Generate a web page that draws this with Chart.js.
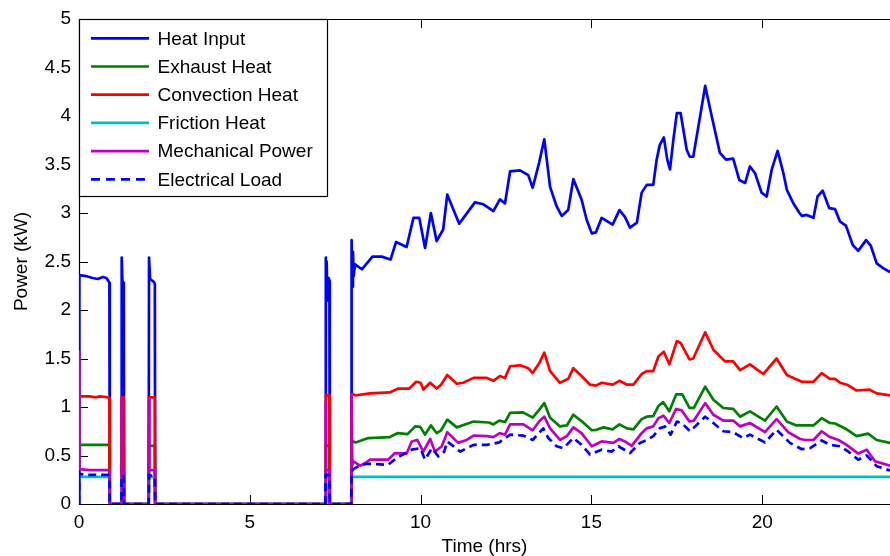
<!DOCTYPE html>
<html>
<head>
<meta charset="utf-8">
<script src="https://cdn.jsdelivr.net/npm/chart.js@4.4.1/dist/chart.umd.min.js"></script>
<style>
html,body{margin:0;padding:0;background:#fff;overflow:hidden;}
canvas{display:block;}
</style>
</head>
<body>
<canvas id="c" width="890" height="556"></canvas>
<script>
// ---- Data ----
const seriesNames = ["Heat Input","Exhaust Heat","Convection Heat","Friction Heat","Mechanical Power","Electrical Load"];
const xTickValues = [0,5,10,15,20];
const yTickStep = 0.5;

const heatT = [0,0.01,0.2,0.4,0.55,0.7,0.8,0.86,0.89,0.9,1.24,1.25,1.27,1.31,1.32,2.04,2.05,2.08,2.19,2.22,2.23,7.21,7.22,7.23,7.25,7.27,7.31,7.33,7.34,7.97,7.98,8.0,8.02,8.04,8.08,8.28,8.59,8.86,9.12,9.28,9.59,9.79,9.96,10.13,10.30,10.47,10.66,10.78,11.0,11.13,11.59,11.84,12.13,12.32,12.47,12.62,12.91,13.15,13.28,13.47,13.62,13.79,13.98,14.13,14.32,14.47,14.71,14.86,15.01,15.13,15.30,15.62,15.82,15.98,16.13,16.33,16.47,16.62,16.81,16.91,17.0,17.12,17.22,17.30,17.40,17.50,17.61,17.79,17.88,17.98,18.13,18.33,18.52,18.76,18.94,19.15,19.33,19.50,19.64,19.79,19.98,20.13,20.28,20.45,20.62,20.72,20.91,21.09,21.16,21.30,21.50,21.62,21.77,21.96,22.13,22.28,22.45,22.65,22.81,23.04,23.18,23.35,23.55,23.74];
const heatV = [0,2.36,2.35,2.33,2.32,2.34,2.33,2.30,2.28,0,0,2.54,2.30,2.28,0,0,2.54,2.32,2.29,2.27,0,0,2.54,2.05,2.5,2.1,2.33,2.3,0,0,2.72,2.24,2.6,2.35,2.47,2.42,2.55,2.55,2.52,2.70,2.65,2.95,2.95,2.64,3.00,2.71,2.83,3.19,3.0,2.89,3.11,3.09,3.02,3.14,3.10,3.43,3.44,3.39,3.26,3.52,3.76,3.27,3.07,2.97,3.03,3.35,3.14,2.93,2.79,2.80,2.95,2.88,3.03,2.96,2.85,2.90,3.21,3.29,3.29,3.55,3.70,3.78,3.55,3.45,3.76,4.03,4.03,3.65,3.58,3.58,3.89,4.31,4.0,3.62,3.55,3.56,3.34,3.31,3.48,3.41,3.21,3.17,3.45,3.64,3.41,3.24,3.10,3.0,2.97,2.98,2.95,3.17,3.23,3.05,3.04,2.91,2.87,2.67,2.61,2.72,2.66,2.48,2.43,2.39];

const exhT = [0,0.85,0.89,0.9,1.24,1.25,1.31,1.32,2.04,2.05,2.22,2.23,7.21,7.22,7.33,7.34,7.97,7.98,8.03,8.1,8.47,9.1,9.32,9.62,9.84,9.99,10.13,10.30,10.47,10.6,10.78,11.06,11.3,11.55,12.0,12.13,12.30,12.47,12.62,13.0,13.28,13.47,13.62,13.79,14.08,14.28,14.47,14.71,15.01,15.15,15.35,15.62,15.82,16.04,16.23,16.47,16.62,16.81,16.96,17.1,17.28,17.48,17.66,17.87,18.0,18.33,18.57,18.86,19.15,19.35,19.64,20.08,20.42,20.72,21.0,21.5,21.74,21.98,22.13,22.47,22.76,23.1,23.35,23.74];
const exhV = [0.61,0.61,0.6,0,0,0.6,0.6,0,0,0.6,0.6,0,0,0.6,0.6,0,0,0.63,0.645,0.635,0.68,0.69,0.73,0.72,0.80,0.795,0.715,0.81,0.73,0.76,0.87,0.79,0.82,0.85,0.84,0.82,0.86,0.845,0.94,0.945,0.89,0.97,1.04,0.89,0.80,0.81,0.92,0.855,0.76,0.765,0.79,0.77,0.82,0.78,0.77,0.875,0.90,0.905,1.01,1.05,0.955,1.13,1.13,0.99,0.99,1.21,1.075,0.99,0.98,0.90,0.955,0.86,1.005,0.85,0.81,0.81,0.885,0.835,0.83,0.77,0.70,0.725,0.66,0.63];

const convT = [0,0.3,0.5,0.6,0.86,0.89,0.9,1.24,1.25,1.31,1.32,2.04,2.05,2.22,2.23,7.21,7.23,7.33,7.34,7.97,7.98,8.03,8.1,8.52,9.1,9.35,9.67,9.87,10.0,10.08,10.28,10.47,10.6,10.78,11.06,11.25,11.55,11.94,12.13,12.32,12.47,12.62,12.91,13.15,13.28,13.47,13.62,13.79,14.08,14.32,14.47,14.71,14.96,15.13,15.30,15.62,15.82,16.04,16.23,16.47,16.62,16.81,16.96,17.12,17.28,17.50,17.61,17.87,17.98,18.33,18.57,18.91,19.15,19.35,19.64,20.03,20.42,20.72,20.91,21.16,21.5,21.74,21.98,22.13,22.28,22.48,22.76,23.13,23.35,23.74];
const convV = [1.11,1.11,1.1,1.11,1.1,1.09,0,0,1.1,1.1,0,0,1.1,1.1,0,0,1.12,1.12,0,0,1.13,1.13,1.12,1.14,1.15,1.19,1.19,1.26,1.25,1.18,1.25,1.19,1.23,1.33,1.24,1.25,1.30,1.30,1.27,1.32,1.30,1.42,1.43,1.40,1.35,1.45,1.56,1.37,1.25,1.29,1.40,1.32,1.23,1.22,1.25,1.23,1.27,1.23,1.23,1.34,1.37,1.37,1.52,1.57,1.44,1.68,1.66,1.49,1.50,1.77,1.59,1.47,1.47,1.38,1.44,1.34,1.50,1.33,1.30,1.26,1.26,1.35,1.29,1.29,1.25,1.23,1.17,1.18,1.14,1.12];

const fricT = [0,0.89,0.9,1.24,1.25,1.31,1.32,2.04,2.05,2.22,2.23,7.21,7.22,7.33,7.35,7.97,7.98,23.74];
const fricV = [0.28,0.28,0,0,0.28,0.28,0,0,0.28,0.28,0,0,0.28,0.28,0,0,0.28,0.28];

const mechT = [0,0.01,0.3,0.5,0.7,0.86,0.89,0.9,1.24,1.25,1.26,1.31,1.32,2.04,2.05,2.06,2.22,2.23,7.21,7.22,7.23,7.33,7.34,7.97,7.98,8.0,8.03,8.23,8.37,8.52,9.05,9.25,9.59,9.74,9.90,10.08,10.28,10.42,10.62,10.78,11.10,11.35,11.55,11.94,12.13,12.32,12.47,12.62,13.01,13.28,13.47,13.62,13.79,14.08,14.28,14.47,14.71,15.01,15.30,15.64,15.82,15.98,16.18,16.47,16.62,16.81,16.96,17.11,17.28,17.48,17.64,17.87,18.0,18.33,18.57,18.86,19.15,19.35,19.64,20.08,20.42,20.76,21.11,21.26,21.50,21.74,21.98,22.23,22.47,22.81,23.06,23.30,23.74];
const mechV = [1.57,0.36,0.35,0.35,0.35,0.35,0.33,0,0,1.08,0.35,0.35,0,0,1.08,0.35,0.35,0,0,1.04,0.35,0.35,0,0,1.13,0.40,0.44,0.395,0.42,0.457,0.457,0.525,0.52,0.645,0.66,0.54,0.67,0.54,0.595,0.74,0.63,0.66,0.705,0.70,0.69,0.73,0.715,0.82,0.82,0.76,0.85,0.90,0.78,0.66,0.70,0.79,0.73,0.595,0.645,0.63,0.67,0.645,0.60,0.73,0.78,0.80,0.885,0.91,0.835,0.98,0.965,0.85,0.86,1.04,0.92,0.86,0.86,0.80,0.835,0.74,0.875,0.74,0.67,0.66,0.66,0.75,0.69,0.66,0.61,0.52,0.56,0.44,0.395];

const elecT = [0,0.01,0.3,0.86,0.89,0.9,1.24,1.25,1.31,1.32,2.04,2.05,2.22,2.23,7.21,7.22,7.33,7.34,7.97,7.98,8.03,8.18,8.42,9.05,9.30,9.74,9.99,10.13,10.33,10.52,10.69,10.78,11.16,11.55,11.94,12.30,12.62,13.01,13.28,13.59,13.74,13.98,14.18,14.47,14.71,14.96,15.30,15.59,15.79,16.13,16.42,16.62,16.81,17.0,17.15,17.32,17.50,17.64,17.89,18.33,18.57,18.86,19.15,19.44,19.64,20.08,20.42,20.81,21.16,21.40,21.74,21.98,22.28,22.52,22.81,23.06,23.35,23.74];
const elecV = [0,0.31,0.30,0.30,0.28,0,0,0.3,0.28,0,0,0.3,0.28,0,0,0.3,0.3,0,0,0.33,0.36,0.39,0.415,0.405,0.475,0.56,0.575,0.457,0.575,0.49,0.54,0.645,0.54,0.61,0.61,0.635,0.715,0.705,0.66,0.78,0.68,0.595,0.575,0.68,0.61,0.51,0.56,0.54,0.595,0.525,0.63,0.66,0.70,0.78,0.80,0.715,0.85,0.835,0.75,0.90,0.835,0.75,0.74,0.68,0.715,0.635,0.765,0.63,0.565,0.575,0.655,0.61,0.595,0.54,0.457,0.50,0.39,0.345];

// ---- Styling ----
const FONT = "'Liberation Sans', Arial, Helvetica, sans-serif";
const LW = 2.7;
const styles = [
  {color:'#0000FF', dash:[]},
  {color:'#008000', dash:[]},
  {color:'#FF0000', dash:[]},
  {color:'#00BFBF', dash:[]},
  {color:'#BF00BF', dash:[]},
  {color:'#0000FF', dash:[8,5]}
];
const tArrays = [heatT, exhT, convT, fricT, mechT, elecT];
const vArrays = [heatV, exhV, convV, fricV, mechV, elecV];

const datasets = seriesNames.map((name, i) => ({
  label: name,
  data: tArrays[i].map((t, k) => ({x: t, y: vArrays[i][k]})),
  borderColor: styles[i].color,
  backgroundColor: styles[i].color,
  borderDash: styles[i].dash,
  borderWidth: LW,
  pointRadius: 0,
  tension: 0,
  fill: false,
  order: seriesNames.length - i
}));

const framePlugin = {
  id: 'frame',
  beforeDatasetsDraw(chart) {
    const {ctx, chartArea: a, scales: {x, y}} = chart;
    ctx.save();
    ctx.strokeStyle = '#000';
    ctx.lineWidth = 1;
    ctx.beginPath();
    xTickValues.forEach(v => {
      const px = Math.round(x.getPixelForValue(v)) + 0.5;
      ctx.moveTo(px, a.bottom); ctx.lineTo(px, a.bottom - 9);
      ctx.moveTo(px, a.top); ctx.lineTo(px, a.top + 9);
    });
    y.ticks.forEach(t => {
      const py = Math.round(y.getPixelForValue(t.value)) + 0.5;
      ctx.moveTo(a.left, py); ctx.lineTo(a.left + 9, py);
    });
    ctx.stroke();
    ctx.lineWidth = 1.2;
    ctx.beginPath();
    ctx.moveTo(a.left + 0.5, a.top + 0.5);
    ctx.lineTo(a.right, a.top + 0.5);
    ctx.moveTo(a.left + 0.5, a.top);
    ctx.lineTo(a.left + 0.5, a.bottom + 0.5);
    ctx.lineTo(a.right, a.bottom + 0.5);
    ctx.stroke();
    ctx.restore();
  },
  afterDraw(chart) {
    const {ctx, chartArea: a} = chart;
    const bx = a.left + 0.5, by = a.top + 0.5, bw = 248, bh = 177;
    ctx.save();
    ctx.fillStyle = '#fff';
    ctx.fillRect(bx, by, bw, bh);
    ctx.strokeStyle = '#000';
    ctx.lineWidth = 1.2;
    ctx.strokeRect(bx, by, bw, bh);
    ctx.font = '19px ' + FONT;
    ctx.textBaseline = 'middle';
    ctx.textAlign = 'left';
    seriesNames.forEach((name, i) => {
      const yy = a.top + 19.3 + i * 28.2;
      ctx.beginPath();
      ctx.strokeStyle = styles[i].color;
      ctx.lineWidth = LW;
      ctx.setLineDash(styles[i].dash.length ? [9, 6] : []);
      ctx.moveTo(a.left + 12, yy);
      ctx.lineTo(a.left + 70, yy);
      ctx.stroke();
      ctx.setLineDash([]);
      ctx.fillStyle = '#000';
      ctx.fillText(name, a.left + 78.5, yy + 1);
    });
    ctx.restore();
  }
};

new Chart(document.getElementById('c'), {
  type: 'line',
  data: {datasets},
  options: {
    responsive: false,
    animation: false,
    devicePixelRatio: 1,
    layout: {padding: {top: 19, right: 0, bottom: 0, left: 0}},
    plugins: {legend: {display: false}, tooltip: {enabled: false}},
    elements: {line: {borderJoinStyle: 'round', borderCapStyle: 'butt'}},
    scales: {
      x: {
        type: 'linear',
        min: 0,
        max: 23.74,
        afterBuildTicks: s => { s.ticks = xTickValues.map(v => ({value: v})); },
        afterFit: s => { s.height = 52; },
        grid: {display: false},
        border: {display: false},
        ticks: {color: '#000', font: {family: FONT, size: 19, lineHeight: 1}, padding: 1, maxRotation: 0, autoSkip: false,
                callback: v => String(Number(v))},
        title: {display: true, text: 'Time (hrs)', color: '#000', font: {family: FONT, size: 19, lineHeight: 1}, padding: {top: 0, bottom: 0}}
      },
      y: {
        type: 'linear',
        min: 0,
        max: 5,
        ticks: {stepSize: yTickStep, color: '#000', font: {family: FONT, size: 19, lineHeight: 1}, padding: 0,
                callback: v => String(Number(v.toFixed(2)))},
        afterFit: s => { s.width = 79; },
        grid: {display: false},
        border: {display: false},
        title: {display: true, text: 'Power (kW)', color: '#000', font: {family: FONT, size: 19, lineHeight: 1}, padding: {top: 12.5, bottom: 0}}
      }
    }
  },
  plugins: [framePlugin]
});
</script>
</body>
</html>
